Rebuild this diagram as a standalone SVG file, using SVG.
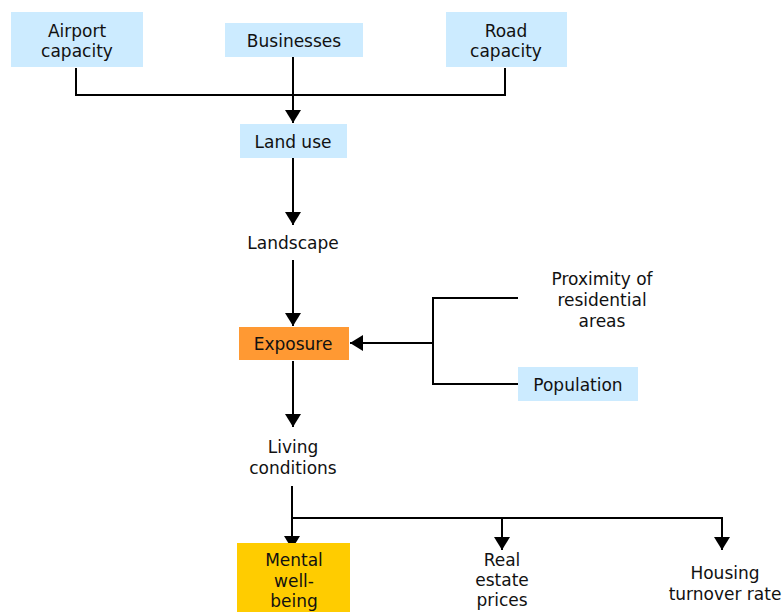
<svg xmlns="http://www.w3.org/2000/svg" width="782" height="612" viewBox="0 0 782 612">
  <style>
    text { font-family: "DejaVu Sans", Verdana, sans-serif; font-size: 17px; fill: #111; text-anchor: middle; }
    .box { fill: #CCEBFF; }
    .wire { fill: none; stroke: #000; stroke-width: 2; }
  </style>
  <defs>
    <marker id="arrow" viewBox="0 0 13 16" refX="13" refY="8" markerWidth="13" markerHeight="16" markerUnits="userSpaceOnUse" orient="auto">
      <path d="M0,0 L13,8 L0,16 Z" fill="#000"/>
    </marker>
  </defs>
  <rect width="782" height="612" fill="#fff"/>

  <g id="connectors">
    <path class="wire" d="M76,68 V95 H505 V68"/>
    <path class="wire" d="M293,57 V123" marker-end="url(#arrow)"/>
    <path class="wire" d="M293,158 V225" marker-end="url(#arrow)"/>
    <path class="wire" d="M293,260 V326" marker-end="url(#arrow)"/>
    <path class="wire" d="M518,298 H433 V384 H518"/>
    <path class="wire" d="M433,343 H350" marker-end="url(#arrow)"/>
    <path class="wire" d="M293,361 V427" marker-end="url(#arrow)"/>
    <path class="wire" d="M292,486 V549" marker-end="url(#arrow)"/>
    <path class="wire" d="M292,518 H722 V550" marker-end="url(#arrow)"/>
    <path class="wire" d="M502,518 V550" marker-end="url(#arrow)"/>
  </g>

  <g id="airport-capacity">
    <rect class="box" x="11" y="12" width="132" height="55"/>
    <text x="77" y="37">Airport</text>
    <text x="77" y="57">capacity</text>
  </g>
  <g id="businesses">
    <rect class="box" x="225" y="23" width="138" height="34"/>
    <text x="294" y="47">Businesses</text>
  </g>
  <g id="road-capacity">
    <rect class="box" x="446" y="12" width="121" height="55"/>
    <text x="506" y="37">Road</text>
    <text x="506" y="57">capacity</text>
  </g>
  <g id="land-use">
    <rect class="box" x="240" y="124" width="107" height="34"/>
    <text x="293" y="148">Land use</text>
  </g>
  <g id="landscape">
    <text x="293" y="249">Landscape</text>
  </g>
  <g id="exposure">
    <rect x="239" y="327" width="110" height="33" fill="#FF9933"/>
    <text x="293" y="350">Exposure</text>
  </g>
  <g id="proximity">
    <text x="602" y="285">Proximity of</text>
    <text x="602" y="306">residential</text>
    <text x="602" y="327">areas</text>
  </g>
  <g id="population">
    <rect class="box" x="518" y="367" width="120" height="34"/>
    <text x="578" y="391">Population</text>
  </g>
  <g id="living-conditions">
    <text x="293" y="453">Living</text>
    <text x="293" y="474">conditions</text>
  </g>
  <g id="mental-well-being">
    <rect x="237" y="543" width="113" height="69" fill="#FFCC00"/>
    <text x="294" y="566">Mental</text>
    <text x="294" y="587">well-</text>
    <text x="294" y="607">being</text>
  </g>
  <g id="real-estate-prices">
    <text x="502" y="566">Real</text>
    <text x="502" y="586">estate</text>
    <text x="502" y="606">prices</text>
  </g>
  <g id="housing-turnover-rate">
    <text x="725" y="579">Housing</text>
    <text x="725" y="600">turnover rate</text>
  </g>
</svg>
